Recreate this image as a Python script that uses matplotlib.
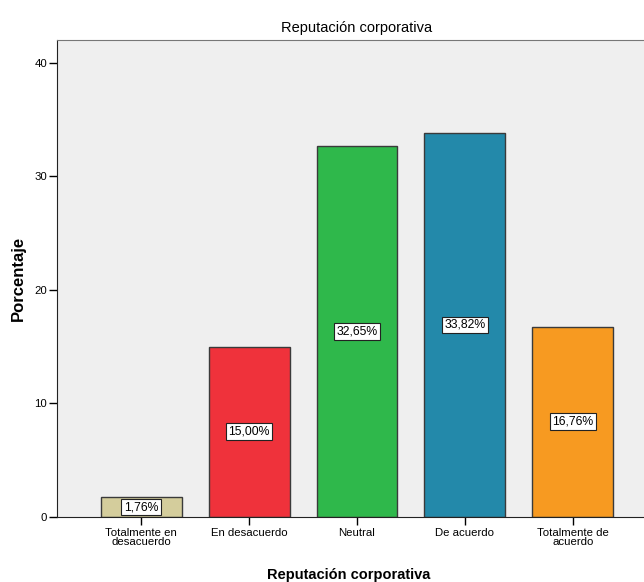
import matplotlib
matplotlib.use('Agg')
import matplotlib.pyplot as plt

plt.rcParams['font.family'] = ['Liberation Sans', 'DejaVu Sans']

categorias = ['Totalmente en\ndesacuerdo', 'En desacuerdo', 'Neutral',
              'De acuerdo', 'Totalmente de\nacuerdo']
porcentajes = [1.76, 15.00, 32.65, 33.82, 16.76]
colores = ['#d4cd9c', '#ef323b', '#2fb84b', '#2389aa', '#f79a21']
yticks = [0, 10, 20, 30, 40]

fig = plt.figure(figsize=(6.44, 5.82), dpi=100)
# el marco continua mas alla del borde derecho
ax = fig.add_axes([57 / 644, 1 - 517 / 582, 600 / 644, 477 / 582])
ax.set_facecolor('#efefef')

x = range(len(categorias))
ax.bar(x, porcentajes, width=0.75, color=colores,
       edgecolor='#3a3a3a', linewidth=1.0, zorder=2)

for xi, v in zip(x, porcentajes):
    txt = f'{v:.2f}%'.replace('.', ',')
    ax.text(xi, v / 2, txt, ha='center', va='center', fontsize=8.8,
            color='black', zorder=3,
            bbox=dict(boxstyle='square,pad=0.2', fc='white',
                      ec='#222222', lw=0.8))

ax.set_xlim(-0.78, 4.78)
ax.set_ylim(0, 42.0)
ax.set_yticks(yticks)
ax.set_xticks(list(x))
ax.set_xticklabels(categorias, fontsize=8.2, linespacing=0.85)
ax.tick_params(axis='y', labelsize=8.2, length=6, width=1, pad=1)
ax.tick_params(axis='x', length=6, width=1, pad=2)

ax.spines['left'].set_color('#222222')
ax.spines['bottom'].set_color('#222222')
ax.spines['top'].set_color('#777777')
ax.spines['right'].set_visible(False)

ax.set_title('Reputación corporativa', fontsize=10.5, pad=6)
ax.set_ylabel('Porcentaje', fontsize=12, fontweight='bold')
ax.yaxis.set_label_coords((18 - 57) / 600, (517 - 278) / 477)
ax.yaxis.label.set_va('center')
ax.set_xlabel('Reputación corporativa', fontsize=10.5, fontweight='bold')
ax.xaxis.set_label_coords((349 - 57) / 600, -51 / 477)

fig.savefig('out.png', dpi=100, facecolor='white')
